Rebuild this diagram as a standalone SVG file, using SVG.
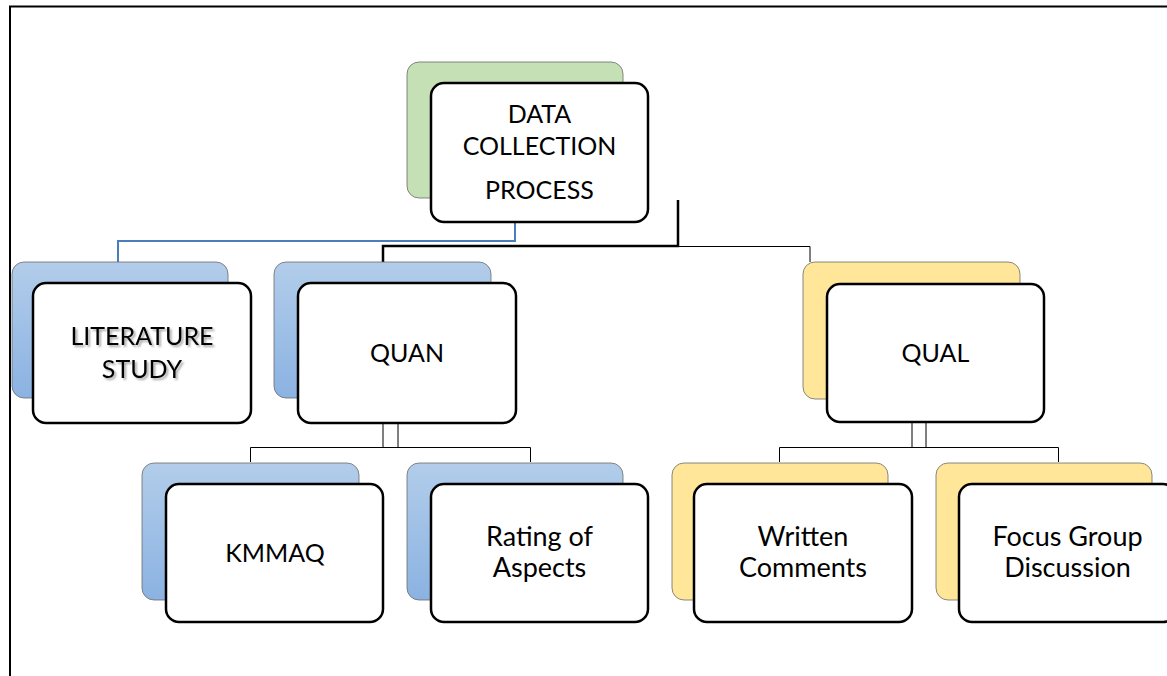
<svg xmlns="http://www.w3.org/2000/svg" width="1167" height="676" viewBox="0 0 1167 676">
<defs>
<linearGradient id="blueGrad" x1="0" y1="0" x2="0" y2="1">
<stop offset="0" stop-color="#b2cdea"/>
<stop offset="1" stop-color="#8bb2e2"/>
</linearGradient>
<filter id="shadow" x="-10%" y="-20%" width="120%" height="150%">
<feGaussianBlur in="SourceAlpha" stdDeviation="0.8"/>
<feOffset dx="1.5" dy="1.5" result="b"/>
<feComponentTransfer><feFuncA type="linear" slope="0.35"/></feComponentTransfer>
<feMerge><feMergeNode/><feMergeNode in="SourceGraphic"/></feMerge>
</filter>
</defs>
<style>
.back{stroke:#6b6b6b;stroke-width:0.8}
.blue{fill:url(#blueGrad)}
.yellow{fill:#ffe699}
.green{fill:#c5e0b4}
.front{fill:#ffffff;stroke:#000000;stroke-width:2.5}
.lbl{font-family:Lato,"Liberation Sans",sans-serif;font-size:25px;fill:#000000;text-anchor:middle}
.mixed{font-size:27px}
.thin{fill:none;stroke:#000000;stroke-width:1}
.thick{fill:none;stroke:#000000;stroke-width:2.5}
.bluec{fill:none;stroke:#4a7ebb;stroke-width:2}
</style>
<rect x="0" y="0" width="1167" height="676" fill="#ffffff"/>
<g id="frame">
<line x1="9" y1="6.5" x2="1167" y2="6.5" stroke="#000" stroke-width="2"/>
<line x1="10" y1="6" x2="10" y2="676" stroke="#000" stroke-width="2"/>
</g>
<g id="connectors">
<path class="bluec" d="M515,222 V241 H118 V262"/>
<path class="thick" d="M678,200 V246 H383 V262"/>
<path class="thin" d="M678,246.5 H810 V262"/>
<path class="thin" d="M383,423 V447 M398,423 V447 M250.5,462 V447.5 H530.5 V462"/>
<path class="thin" d="M912,422 V447 M926,422 V447 M779.5,462 V447.5 H1058.5 V462"/>
</g>
<g id="data-collection">
<rect class="back green" x="407" y="62" width="216" height="136" rx="12"/>
<rect class="front" x="431" y="83" width="217" height="139" rx="13"/>
<text class="lbl" x="539.5" y="123">DATA</text>
<text class="lbl" x="539.5" y="155">COLLECTION</text>
<text class="lbl" x="539.5" y="199">PROCESS</text>
</g>
<g id="literature-study">
<rect class="back blue" x="12" y="262" width="216" height="136" rx="12"/>
<rect class="front" x="33" y="283" width="218" height="140" rx="13"/>
<g filter="url(#shadow)">
<text class="lbl" x="142" y="345">LITERATURE</text>
<text class="lbl" x="142" y="378">STUDY</text>
</g>
</g>
<g id="quan">
<rect class="back blue" x="274" y="262" width="217" height="136" rx="12"/>
<rect class="front" x="298" y="283" width="218" height="140" rx="13"/>
<text class="lbl" x="407" y="362">QUAN</text>
</g>
<g id="qual">
<rect class="back yellow" x="803" y="262" width="217" height="137" rx="12"/>
<rect class="front" x="827" y="284" width="217" height="138" rx="13"/>
<text class="lbl" x="935.5" y="362">QUAL</text>
</g>
<g id="kmmaq">
<rect class="back blue" x="142" y="463" width="217" height="137" rx="12"/>
<rect class="front" x="166" y="484" width="217" height="138" rx="13"/>
<text class="lbl" x="275" y="562" font-size="26">KMMAQ</text>
</g>
<g id="rating-of-aspects">
<rect class="back blue" x="407" y="463" width="216" height="137" rx="12"/>
<rect class="front" x="431" y="484" width="217" height="138" rx="13"/>
<text class="lbl mixed" x="539.5" y="546">Rating of</text>
<text class="lbl mixed" x="539.5" y="577">Aspects</text>
</g>
<g id="written-comments">
<rect class="back yellow" x="672" y="463" width="216" height="137" rx="12"/>
<rect class="front" x="694" y="484" width="218" height="138" rx="13"/>
<text class="lbl mixed" x="803" y="546">Written</text>
<text class="lbl mixed" x="803" y="577">Comments</text>
</g>
<g id="focus-group-discussion">
<rect class="back yellow" x="936" y="463" width="216" height="137" rx="12"/>
<rect class="front" x="959" y="484" width="217" height="138" rx="13"/>
<text class="lbl mixed" x="1067.5" y="546">Focus Group</text>
<text class="lbl mixed" x="1067.5" y="577">Discussion</text>
</g>
</svg>
